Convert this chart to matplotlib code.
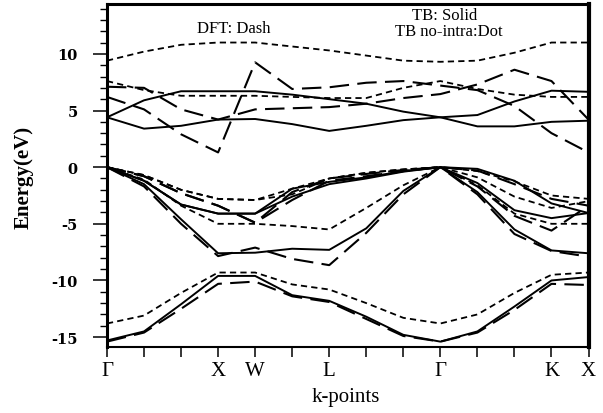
import matplotlib
matplotlib.use('Agg')
import matplotlib.pyplot as plt
from matplotlib.ticker import MultipleLocator

# k-path: equally spaced points, Gamma-X-W-L-Gamma-K-X
k_points = list(range(14))
k_labels = ['Γ', '', '', 'X', 'W', '', 'L', '', '', 'Γ', '', '', 'K', 'X']

energy_ticks = [-15, -10, -5, 0, 5, 10]
energy_labels = ['-15', '-10', '-5', '0', '5', '10']

# DFT (dash)
dft_c1 = [7.1, 7.0, 5.1, 4.2, 5.1, 5.2, 5.3, 5.6, 6.1, 6.45, 7.3, 8.6, 7.6, 4.2]
dft_c2 = [6.2, 5.1, 2.9, 1.3, 9.25, 6.9, 7.05, 7.45, 7.6, 7.2, 6.8, 5.4, 3.0, 1.3]
dft_v_a = [0, -0.8, -2.3, -3.4, -4.9, -2.2, -1.0, -0.6, -0.25, 0, -0.3, -1.5, -2.8, -3.4]
dft_v_b = [0, -0.8, -2.3, -3.4, -4.9, -2.9, -1.2, -0.8, -0.35, 0, -1.7, -4.3, -5.6, -3.4]
dft_v_c = [0, -1.7, -5.0, -7.85, -7.1, -8.1, -8.65, -5.8, -2.4, 0, -2.4, -5.9, -7.4, -7.9]
dft_s = [-15.4, -14.6, -12.5, -10.3, -10.1, -11.4, -11.9, -13.4, -14.9, -15.4, -14.6, -12.6, -10.3, -10.4]

# TB (solid)
tb_c1 = [4.4, 5.9, 6.7, 6.7, 6.7, 6.4, 6.0, 5.6, 4.9, 4.4, 4.6, 5.8, 6.75, 6.65]
tb_c2 = [4.4, 3.4, 3.65, 4.2, 4.25, 3.8, 3.2, 3.65, 4.15, 4.4, 3.6, 3.6, 4.0, 4.1]
tb_v_a = [0, -1.2, -3.3, -4.1, -4.1, -1.9, -1.3, -0.9, -0.35, 0, -0.15, -1.2, -3.2, -4.05]
tb_v_b = [0, -1.2, -3.3, -4.1, -4.1, -2.6, -1.5, -1.0, -0.4, 0, -1.4, -3.8, -4.5, -4.05]
tb_v_c = [0, -1.5, -4.6, -7.6, -7.55, -7.2, -7.3, -5.4, -2.1, 0, -2.2, -5.5, -7.35, -7.6]
tb_s = [-15.3, -14.5, -12.1, -9.6, -9.6, -11.3, -11.8, -13.2, -14.8, -15.4, -14.5, -12.3, -10.0, -9.7]

# TB no-intra (dot)
noi_c1 = [9.4, 10.2, 10.8, 11.0, 11.0, 10.65, 10.3, 9.85, 9.4, 9.3, 9.4, 10.1, 11.0, 11.0]
noi_c2 = [7.6, 6.8, 6.3, 6.3, 6.3, 6.2, 6.1, 6.1, 7.0, 7.6, 6.9, 6.4, 6.2, 6.2]
noi_v_a = [0, -0.7, -2.0, -2.8, -2.9, -1.9, -1.0, -0.5, -0.2, 0, -0.35, -1.25, -2.5, -2.8]
noi_v_b = [0, -0.7, -2.0, -2.8, -2.9, -2.4, -1.0, -0.5, -0.2, 0, -0.9, -2.6, -3.6, -3.0]
noi_v_c = [0, -1.1, -3.4, -5.0, -5.0, -5.2, -5.5, -3.6, -1.6, 0, -1.6, -4.1, -5.0, -5.0]
noi_s = [-13.8, -13.1, -11.1, -9.3, -9.3, -10.35, -10.8, -12.0, -13.3, -13.8, -13.0, -11.1, -9.5, -9.3]

dft_bands = [dft_c1, dft_c2, dft_v_a, dft_v_b, dft_v_c, dft_s]
tb_bands = [tb_c1, tb_c2, tb_v_a, tb_v_b, tb_v_c, tb_s]
noi_bands = [noi_c1, noi_c2, noi_v_a, noi_v_b, noi_v_c, noi_s]

plt.rcParams['lines.scale_dashes'] = False
serif = 'Liberation Serif'

fig = plt.figure(figsize=(6.03, 4.14), dpi=100)
ax = fig.add_axes([0.1774, 0.1587, 0.7986, 0.8292])

for band in dft_bands:
    ax.plot(k_points, band, color='black', lw=1.5, dashes=(14, 6))
for band in noi_bands:
    ax.plot(k_points, band, color='black', lw=1.3, dashes=(4.5, 3))
for band in tb_bands:
    ax.plot(k_points, band, color='black', lw=1.4)

ax.set_xlim(0, 13)
ax.set_ylim(-15.9, 14.4)

ax.set_xticks(k_points)
ax.set_xticklabels(k_labels, family=serif, fontsize=15)
ax.set_yticks(energy_ticks)
ax.set_yticklabels(energy_labels, family='DejaVu Serif', fontweight='bold', fontsize=10.5)
ax.yaxis.set_minor_locator(MultipleLocator(1))

ax.tick_params(axis='x', direction='out', length=7, width=1.1, pad=3)
ax.tick_params(axis='y', which='major', direction='out', length=10, width=1.1, pad=11)
ax.tick_params(axis='y', which='minor', direction='out', length=5, width=1.0)

ax.spines['left'].set_linewidth(2.2)
ax.spines['top'].set_linewidth(2.2)
ax.spines['right'].set_linewidth(3.0)
ax.spines['bottom'].set_linewidth(1.5)

fig.text(24 / 603, 1 - 177 / 414, 'Energy(eV)', rotation=90, family=serif,
         fontweight='bold', fontsize=15, ha='center', va='center')
fig.text(346 / 603, 1 - 398 / 414, 'k-points', family=serif, fontsize=15,
         ha='center', va='center')

fig.text(234 / 603, 1 - 29 / 414, 'DFT: Dash', family=serif, fontsize=12,
         ha='center', va='center')
fig.text(445 / 603, 1 - 15.5 / 414, 'TB: Solid', family=serif, fontsize=12,
         ha='center', va='center')
fig.text(449 / 603, 1 - 32 / 414, 'TB no-intra:Dot', family=serif, fontsize=12,
         ha='center', va='center')

fig.savefig('out.png', dpi=100)
